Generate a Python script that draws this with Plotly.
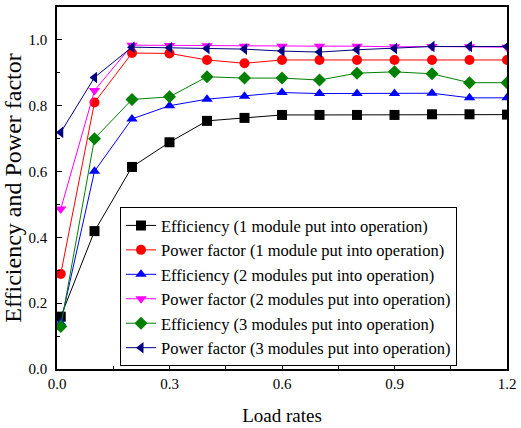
import plotly.graph_objects as go

load = [0.01, 0.1, 0.2, 0.3, 0.4, 0.5, 0.6, 0.7, 0.8, 0.9, 1.0, 1.1, 1.2]
eff1 = [0.159, 0.419, 0.614, 0.689, 0.754, 0.763, 0.772, 0.772, 0.772, 0.772, 0.774, 0.774, 0.773]
pf1 = [0.289, 0.81, 0.96, 0.959, 0.939, 0.929, 0.939, 0.939, 0.939, 0.939, 0.939, 0.939, 0.939]
eff2 = [0.14, 0.601, 0.76, 0.80, 0.82, 0.829, 0.84, 0.837, 0.837, 0.837, 0.838, 0.824, 0.824]
pf2 = [0.486, 0.846, 0.984, 0.983, 0.982, 0.981, 0.981, 0.981, 0.981, 0.979, 0.98, 0.979, 0.978]
eff3 = [0.129, 0.70, 0.819, 0.827, 0.888, 0.884, 0.884, 0.878, 0.899, 0.903, 0.897, 0.87, 0.87]
pf3 = [0.719, 0.886, 0.978, 0.976, 0.974, 0.972, 0.966, 0.963, 0.97, 0.974, 0.98, 0.98, 0.98]

series = [
    ("Efficiency (1 module put into operation)", eff1, "black", "square"),
    ("Power factor (1 module put into operation)", pf1, "red", "circle"),
    ("Efficiency (2 modules put into operation)", eff2, "blue", "triangle-up"),
    ("Power factor (2 modules put into operation)", pf2, "magenta", "triangle-down"),
    ("Efficiency (3 modules put into operation)", eff3, "green", "diamond"),
    ("Power factor (3 modules put into operation)", pf3, "navy", "triangle-left"),
]

fig = go.Figure()
for name, ys, col, sym in series:
    fig.add_trace(go.Scatter(x=load, y=ys, name=name, mode="lines+markers",
                             line=dict(color=col, width=1),
                             marker=dict(symbol=sym, size=10, color=col)))

font = "Liberation Serif, Times New Roman, serif"
fig.update_layout(
    width=521, height=428,
    margin=dict(l=57, r=8, t=5, b=56),
    paper_bgcolor="white", plot_bgcolor="white",
    font=dict(family=font, size=15, color="black"),
    showlegend=True,
    legend=dict(x=0.14, y=0.447, xanchor="left", yanchor="top",
                bordercolor="black", borderwidth=1, bgcolor="white",
                tracegroupgap=0,
                font=dict(family=font, size=16.5)),
    xaxis=dict(range=[0, 1.2], tickvals=[0, 0.3, 0.6, 0.9, 1.2],
               ticktext=["0.0", "0.3", "0.6", "0.9", "1.2"],
               ticklabeloverflow="allow",
               ticks="inside", ticklen=5, tickcolor="black",
               minor=dict(tickvals=[0.15, 0.45, 0.75, 1.05], ticks="inside", ticklen=3, tickcolor="black"),
               showline=True, linecolor="black", linewidth=1.5, mirror=True,
               showgrid=False, zeroline=False,
               title=dict(text="Load rates", font=dict(size=19), standoff=18)),
    yaxis=dict(range=[0, 1.1], tickvals=[0, 0.2, 0.4, 0.6, 0.8, 1.0],
               ticktext=["0.0", "0.2", "0.4", "0.6", "0.8", "1.0"],
               ticklabelstandoff=5,
               ticks="inside", ticklen=5, tickcolor="black",
               minor=dict(tickvals=[0.1, 0.3, 0.5, 0.7, 0.9], ticks="inside", ticklen=3, tickcolor="black"),
               showline=True, linecolor="black", linewidth=1.5, mirror=True,
               showgrid=False, zeroline=False,
               title=dict(text="Efficiency and Power factor", font=dict(size=24), standoff=4)),
)
fig.write_html("out.html")
